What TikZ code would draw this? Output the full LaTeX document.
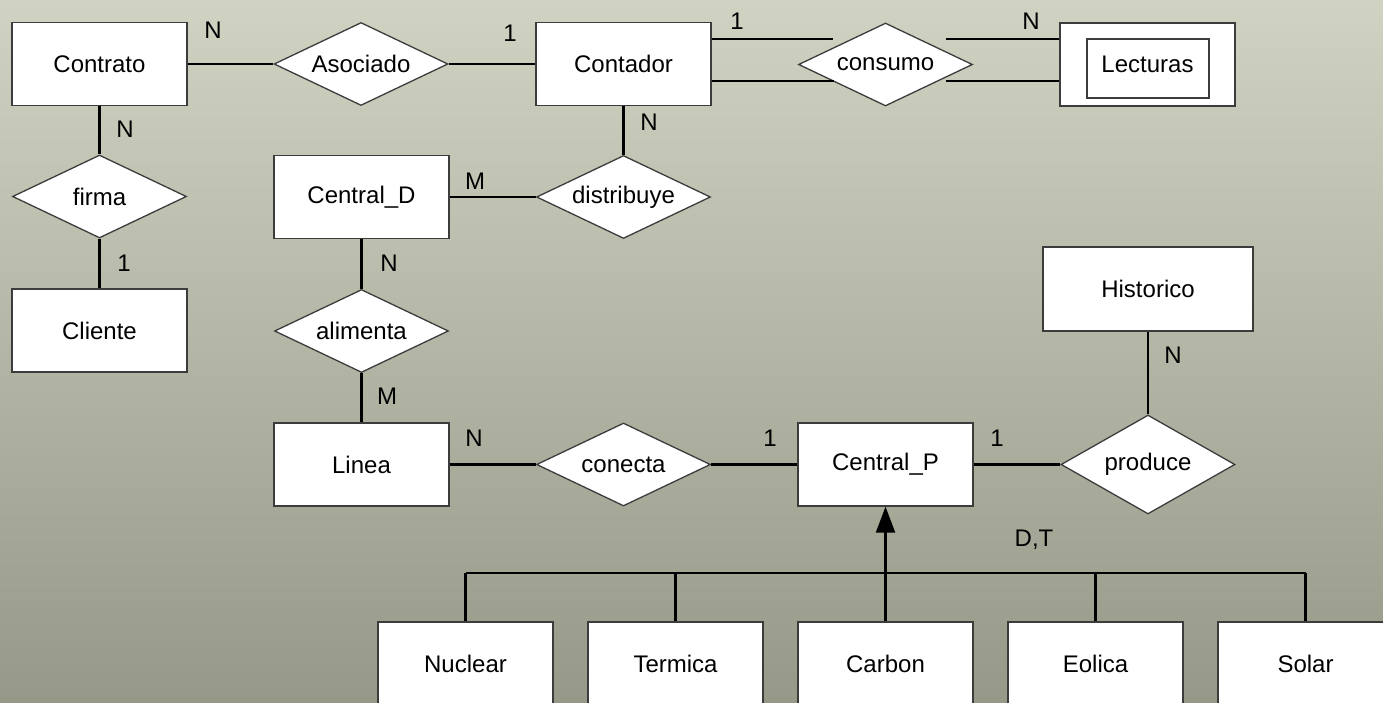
\documentclass[tikz,border=0pt]{standalone}
\usepackage{fontspec}
\setmainfont{Liberation Sans}
\usetikzlibrary{shapes.geometric,arrows.meta}
\definecolor{bgtop}{RGB}{208,211,194}
\definecolor{bgbot}{RGB}{150,152,136}
\definecolor{edgecol}{RGB}{60,60,60}
\tikzset{
  ent/.style={draw=edgecol, line width=1.3pt, fill=white, minimum width=175pt, minimum height=83pt, inner sep=0pt, font=\fontsize{24}{28}\selectfont},
  rel/.style={diamond, draw=edgecol, line width=1.3pt, fill=white, aspect=2.1, minimum width=174pt, minimum height=83pt, inner sep=0pt, font=\fontsize{24}{28}\selectfont},
  card/.style={font=\fontsize{24}{28}\selectfont, inner sep=0pt},
  conn/.style={line width=2.3pt, black},
}
\begin{document}
\begin{tikzpicture}[x=1pt,y=-1pt]
\useasboundingbox (0,0) rectangle (1383,703);
\clip (0,0) rectangle (1383,703);
\shade[top color=bgtop, bottom color=bgbot] (0,0) rectangle (1383,703);
% entities
\node[ent] (Contrato) at (99.5,64) {Contrato};
\node[ent] (Contador) at (623.5,64) {Contador};
\node[ent] (Lecturas) at (1147.5,64.5) {Lecturas};
\node[draw=edgecol, line width=1.3pt, minimum width=122pt, minimum height=59pt, inner sep=0pt] (LecIn) at (1148,68.5) {};
\node[ent] (Cliente) at (99.5,330.5) {Cliente};
\node[ent] (CentralD) at (361.5,197) {Central\_D};
\node[ent] (Linea) at (361.5,464.5) {Linea};
\node[ent] (CentralP) at (885.5,464.5) {Central\_P};
\node[ent, minimum width=210pt, minimum height=84pt] (Historico) at (1148,289) {Historico};
\node[ent] (Nuclear) at (465.5,663.5) {Nuclear};
\node[ent] (Termica) at (675.5,663.5) {Termica};
\node[ent] (Carbon) at (885.5,663.5) {Carbon};
\node[ent] (Eolica) at (1095.5,663.5) {Eolica};
\node[ent] (Solar) at (1305.5,663.5) {Solar};
% relationships
\node[rel] (Asociado) at (361,64) {Asociado};
\node[rel] (consumo) at (885.5,64.5) {consumo};
\node[rel] (firma) at (99.5,196.5) {firma};
\node[rel] (distribuye) at (623.5,197) {distribuye};
\node[rel] (alimenta) at (361.5,331) {alimenta};
\node[rel] (conecta) at (623.5,464.5) {conecta};
\node[rel, minimum height=99pt] (produce) at (1148,464.5) {produce};
% connectors
\draw[conn] (Contrato.east) -- (Asociado.west);
\draw[conn] (Asociado.east) -- (Contador.west);
\coordinate (cu1) at (833,39);
\coordinate (cl1) at (834,81);
\coordinate (cu2) at (946,39);
\coordinate (cl2) at (946,81);
\draw[conn] (Contador.east |- cu1) -- (cu1);
\draw[conn] (Contador.east |- cl1) -- (cl1);
\draw[conn] (cu2) -- (Lecturas.west |- cu2);
\draw[conn] (cl2) -- (Lecturas.west |- cl2);
\draw[conn] (Contador.south) -- (distribuye.north);
\draw[conn] (CentralD.east) -- (distribuye.west);
\draw[conn] (Contrato.south) -- (firma.north);
\draw[conn] (firma.south) -- (Cliente.north);
\draw[conn] (CentralD.south) -- (alimenta.north);
\draw[conn] (alimenta.south) -- (Linea.north);
\draw[conn] (Linea.east) -- (conecta.west);
\draw[conn] (conecta.east) -- (CentralP.west);
\draw[conn] (CentralP.east) -- (produce.west);
\draw[conn] (Historico.south) -- (produce.north);
% ISA
\coordinate (bar) at (885.5,573);
\draw[conn] (Nuclear.north |- bar) -- (Solar.north |- bar);
\foreach \n in {Nuclear,Termica,Eolica,Solar}{
  \draw[conn] (\n.north) -- (\n.north |- bar);
}
\draw[conn, -{Triangle[length=26pt,width=19pt]}] (Carbon.north) -- (CentralP.south);
% cardinalities
\node[card] (c1) at (213,30) {N};
\node[card] (c2) at (510,33) {1};
\node[card] (c3) at (737,21) {1};
\node[card] (c4) at (1031,21) {N};
\node[card] (c5) at (649,122) {N};
\node[card] (c6) at (475,181) {M};
\node[card] (c7) at (125,129) {N};
\node[card] (c8) at (124,263) {1};
\node[card] (c9) at (389,263) {N};
\node[card] (c10) at (387,396) {M};
\node[card] (c11) at (474,438) {N};
\node[card] (c12) at (770,438) {1};
\node[card] (c13) at (997,438) {1};
\node[card] (c14) at (1173,355) {N};
\node[card] (c15) at (1034,540) {D,T};
\end{tikzpicture}
\end{document}
